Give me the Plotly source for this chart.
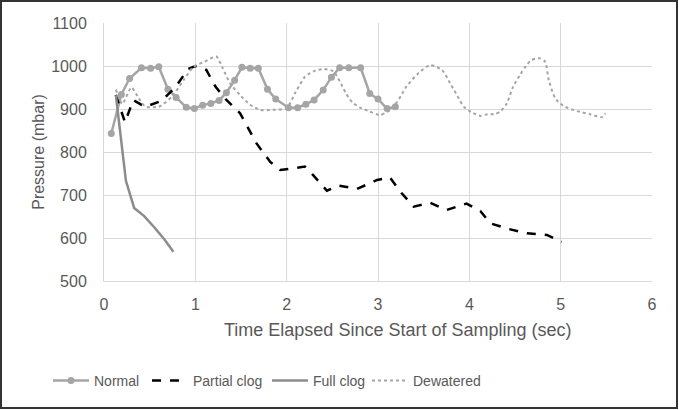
import plotly.graph_objects as go

# Normal
normal_x = [0.08, 0.19, 0.28, 0.41, 0.51, 0.60, 0.70, 0.79, 0.90, 0.99, 1.08, 1.17, 1.26, 1.34,
            1.43, 1.51, 1.60, 1.69, 1.79, 1.88, 2.02, 2.12, 2.21, 2.30, 2.40, 2.49, 2.58, 2.68,
            2.81, 2.91, 3.00, 3.10, 3.19]
normal_y = [843, 934, 971, 996, 995, 998, 946, 927, 904, 901, 909, 913, 920, 938,
            967, 997, 995, 995, 946, 923, 903, 903, 911, 921, 944, 974, 996, 996,
            996, 936, 923, 901, 905]

# Partial clog
partial_x = [0.13, 0.23, 0.32, 0.45, 0.63, 0.78, 0.92, 1.00, 1.12, 1.22, 1.34, 1.49, 1.67, 1.82,
             1.93, 2.20, 2.29, 2.44, 2.57, 2.77, 2.99, 3.13, 3.26, 3.39, 3.57, 3.75, 3.97,
             4.12, 4.23, 4.43, 4.63, 4.85, 5.01]
partial_y = [933, 869, 921, 905, 919, 950, 993, 1000, 991, 952, 921, 890, 820, 777,
             758, 766, 746, 710, 722, 714, 735, 741, 704, 673, 682, 665, 680,
             663, 634, 621, 611, 607, 591]

# Full clog
full_x = [0.13, 0.24, 0.33, 0.44, 0.55, 0.66, 0.76]
full_y = [932, 733, 670, 651, 625, 597, 568]

# Dewatered
dew_x = [0.13, 0.20, 0.30, 0.38, 0.45, 0.60, 0.75, 0.88, 0.98, 1.10, 1.23, 1.30, 1.38, 1.50,
         1.60, 1.71, 1.85, 2.00, 2.10, 2.20, 2.30, 2.40, 2.51, 2.58, 2.65, 2.72, 2.80, 2.90,
         3.02, 3.10, 3.17, 3.25, 3.31, 3.45, 3.57, 3.70, 3.79, 3.87, 3.94, 4.02, 4.12, 4.20,
         4.28, 4.34, 4.41, 4.48, 4.56, 4.62, 4.68, 4.77, 4.83, 4.87, 4.94, 5.03, 5.18, 5.32,
         5.45, 5.49]
dew_y = [945, 912, 950, 925, 906, 905, 930, 970, 998, 1010, 1022, 995, 960, 930,
         910, 898, 898, 902, 940, 975, 988, 993, 988, 965, 936, 915, 904, 895,
         886, 893, 905, 930, 952, 985, 1002, 991, 960, 930, 905, 893, 884, 888,
         888, 894, 913, 952, 981, 1000, 1014, 1018, 1010, 967, 925, 907, 895, 888,
         881, 890]

x_ticks = [0, 1, 2, 3, 4, 5, 6]
y_ticks = [500, 600, 700, 800, 900, 1000, 1100]

FONT = "Liberation Sans Narrow, Liberation Sans, Arial, sans-serif"
TXT = "#595959"
PL, PR, PT, PB = 104, 652, 23, 281
PW, PH = PR - PL, PB - PT

def px_x(p):
    return (p - PL) / PW

def px_y(p):
    return (PB - p) / PH

fig = go.Figure()
fig.add_trace(go.Scatter(x=normal_x, y=normal_y, name="Normal", mode="lines+markers",
                         line=dict(color="#A5A5A5", width=2.5),
                         marker=dict(color="#A5A5A5", size=7), legend="legend"))
fig.add_trace(go.Scatter(x=partial_x, y=partial_y, name="Partial clog", mode="lines",
                         line=dict(color="#000000", width=2.5, dash="dash"), legend="legend2"))
fig.add_trace(go.Scatter(x=full_x, y=full_y, name="Full clog", mode="lines",
                         line=dict(color="#8C8C8C", width=2.5), legend="legend3"))
fig.add_trace(go.Scatter(x=dew_x, y=dew_y, name="Dewatered", mode="lines",
                         line=dict(color="#A5A5A5", width=2, dash="dot", shape="spline",
                                   smoothing=0.6), legend="legend4"))

def leg(px_left):
    return dict(orientation="h", x=px_x(px_left), y=px_y(381), xanchor="left",
                yanchor="middle", font=dict(size=14, color=TXT), itemwidth=36,
                bgcolor="rgba(0,0,0,0)")

fig.update_layout(
    width=679, height=410,
    margin=dict(l=PL, r=679 - PR, t=PT, b=410 - PB),
    paper_bgcolor="white", plot_bgcolor="white",
    font=dict(family=FONT, color=TXT, size=14),
    showlegend=True,
    legend=leg(48), legend2=leg(147), legend3=leg(267), legend4=leg(367),
    xaxis=dict(range=[0, 6], tickvals=x_ticks, showgrid=True, gridcolor="#D9D9D9",
               gridwidth=1, zeroline=False, showline=True, linecolor="#D9D9D9",
               ticks="", tickfont=dict(size=16, color=TXT), ticklabelstandoff=9),
    yaxis=dict(range=[500, 1100], tickvals=y_ticks, showgrid=True, gridcolor="#D9D9D9",
               gridwidth=1, zeroline=False, showline=True, linecolor="#D9D9D9",
               ticks="", tickfont=dict(size=16, color=TXT), ticklabelstandoff=13,
               title=dict(text="Pressure (mbar)", font=dict(size=16, color=TXT), standoff=2)),
    annotations=[dict(text="Time Elapsed Since Start of Sampling (sec)", xref="paper",
                      yref="paper", x=px_x(397), y=px_y(330), xanchor="center",
                      yanchor="middle", showarrow=False, font=dict(size=18, color=TXT))],
    shapes=[dict(type="rect", xref="paper", yref="paper",
                 x0=px_x(1), x1=px_x(677), y0=px_y(408), y1=px_y(1),
                 line=dict(color="#333333", width=2), fillcolor="rgba(0,0,0,0)")],
)

fig.write_html("out.html")
